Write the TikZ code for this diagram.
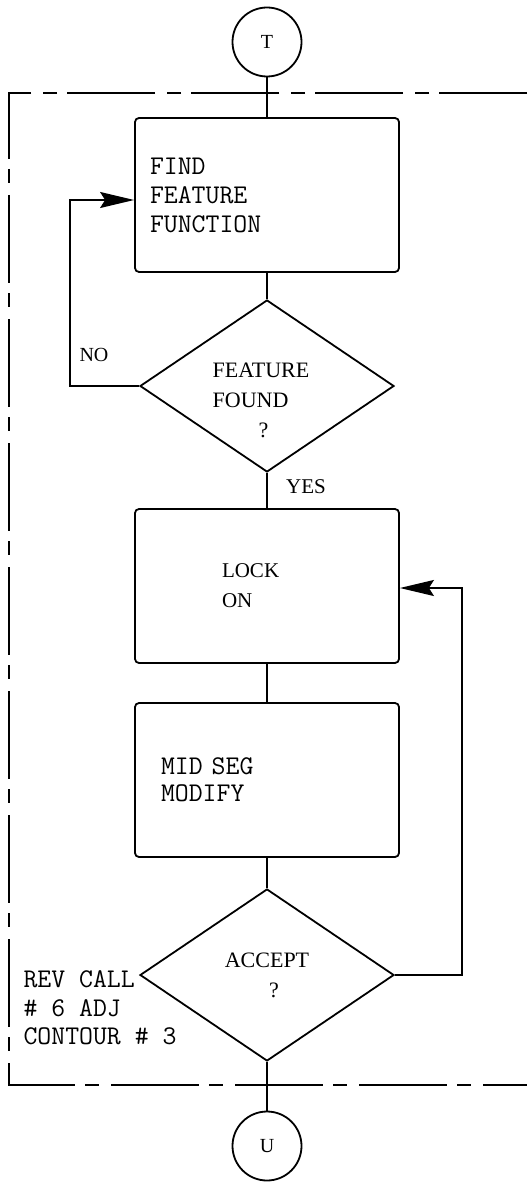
\documentclass[tikz,border=0pt]{standalone}
\usepackage{fontspec}
\setmainfont{Liberation Serif}
\usetikzlibrary{arrows.meta,shapes.geometric}
\tikzstyle{conn}=[circle,draw=black,line width=0.9pt,minimum size=34.5pt,inner sep=0pt,font=\fontsize{10}{12}\selectfont]
\tikzstyle{procbox}=[rectangle,draw=black,line width=0.9pt,rounded corners=2pt,minimum width=132pt,minimum height=77pt,align=left,font=\ttfamily\fontsize{13.5}{14.5}\selectfont]
\tikzstyle{decide}=[diamond,draw=black,line width=0.9pt,minimum width=127pt,minimum height=86pt,inner sep=0pt,align=center,font=\fontsize{11}{15}\selectfont]
\tikzstyle{dtext}=[align=left,font=\fontsize{11}{15}\selectfont]
\tikzstyle{flowline}=[line width=0.9pt,-{Stealth[length=17pt,width=8pt,inset=2.5pt]}]
\tikzstyle{frameline}=[line width=0.9pt,dash pattern=on 44pt off 5pt on 7pt off 6pt]

\begin{document}
\begin{tikzpicture}[x=0.5pt,y=-0.5pt,line width=0.9pt]
\useasboundingbox (0,0) rectangle (527,1182);
\draw[frameline] (527,93) -| (9,1085) -- (527,1085);
\node[conn] (T) at (267,42) {T};
\node[procbox,inner xsep=7.5pt,text width=117pt] (b1) at (267,195) {FIND\\FEATURE\\FUNCTION};
\node[decide] (d1) at (267,386) {};
\node[dtext] (d1txt) at (261,400) {FEATURE\\FOUND\\\hspace*{23pt}?};
\node[procbox,inner xsep=43.5pt,text width=45pt,font=\fontsize{10.5}{15}\selectfont] (b2) at (267,586) {LOCK\\ON};
\node[procbox,inner xsep=13pt,text width=106pt,font=\ttfamily\fontsize{13.5}{13.5}\selectfont] (b3) at (267,780) {MID SEG\\MODIFY};
\node[decide] (d2) at (267,975) {ACCEPT\\\hspace*{7pt}?};
\node[conn] (U) at (267,1146) {U};
\node[font=\fontsize{10}{12}\selectfont] (nolbl) at (94,355) {NO};
\node[font=\fontsize{10.5}{12}\selectfont] (yeslbl) at (306,487) {YES};
\node[anchor=west,align=left,font=\ttfamily\fontsize{13.5}{14.25}\selectfont] (revnote) at (16,1008) {REV CALL\\\# 6 ADJ\\CONTOUR \# 3};
\draw (T) -- (b1);
\draw (b1) -- (d1);
\draw (d1) -- (b2);
\draw (b2) -- (b3);
\draw (b3) -- (d2);
\draw (d2) -- (U);
\coordinate (noturn) at (70,200);
\draw[flowline] (d1.west) -| (noturn) -- (noturn -| b1.west);
\coordinate (accturn) at (462,588);
\draw[flowline] (d2.east) -| (accturn) -- (accturn -| b2.east);
\end{tikzpicture}
\end{document}
